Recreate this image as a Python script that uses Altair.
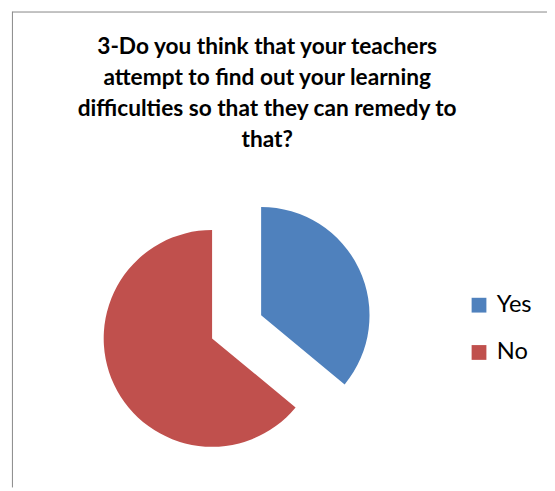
import altair as alt
import pandas as pd

categories = ["Yes", "No"]
values = [36, 64]
colors = ["#4F81BD", "#C0504D"]
title_lines = [
    "3-Do you think that your teachers",
    "attempt to find out your learning",
    "difficulties so that they can remedy to",
    "that?",
]

df = pd.DataFrame({"answer": categories, "value": values, "idx": list(range(len(categories)))})

W, H = 547, 483
CX, CY = 232, 320   # pie centre (chart coords)
EXPLODE = 27.5
R = 110

frame_left = alt.Chart(alt.Data(values=[{}])).mark_rule(color="#868686", strokeWidth=1).encode(
    x=alt.value(4.5), y=alt.value(0), y2=alt.value(H)
)
frame_top = alt.Chart(alt.Data(values=[{}])).mark_rule(color="#868686", strokeWidth=1).encode(
    x=alt.value(4.5), x2=alt.value(W), y=alt.value(0.5)
)

title = alt.Chart(alt.Data(values=[{"t": "\n".join(title_lines)}])).mark_text(
    font="Lato", fontSize=23, fontWeight="bold", align="center", baseline="alphabetic",
    lineBreak="\n", lineHeight=31.5, color="black"
).encode(x=alt.value(263), y=alt.value(43), text="t:N")

pie = alt.Chart(df).transform_joinaggregate(
    total="sum(value)"
).transform_window(
    cum="sum(value)", sort=[alt.SortField("idx")], frame=[None, 0]
).transform_calculate(
    t1="datum.cum / datum.total * 2 * PI",
    t0="(datum.cum - datum.value) / datum.total * 2 * PI",
).transform_calculate(
    mid="(datum.t0 + datum.t1) / 2"
).transform_calculate(
    px=f"{CX} + {EXPLODE} * sin(datum.mid)",
    py=f"{CY} - {EXPLODE} * cos(datum.mid)",
).mark_arc(radius=R).encode(
    theta=alt.Theta("t0:Q", scale=None),
    theta2="t1:Q",
    x=alt.X("px:Q", scale=None),
    y=alt.Y("py:Q", scale=None),
    color=alt.Color(
        "answer:N",
        scale=alt.Scale(domain=categories, range=colors),
        legend=alt.Legend(
            title=None, orient="none", legendX=466, legendY=286,
            symbolType="square", symbolSize=225, symbolStrokeWidth=0,
            labelFont="Lato", labelFontSize=24, labelColor="black",
            labelOffset=6, rowPadding=24, padding=0,
        ),
    ),
)

chart = alt.layer(frame_left, frame_top, title, pie).properties(
    width=W, height=H, padding=0, autosize=alt.AutoSizeParams(type="none")
).configure_view(stroke=None)

chart.save("out.html", embed_options={"renderer": "svg", "actions": False})
